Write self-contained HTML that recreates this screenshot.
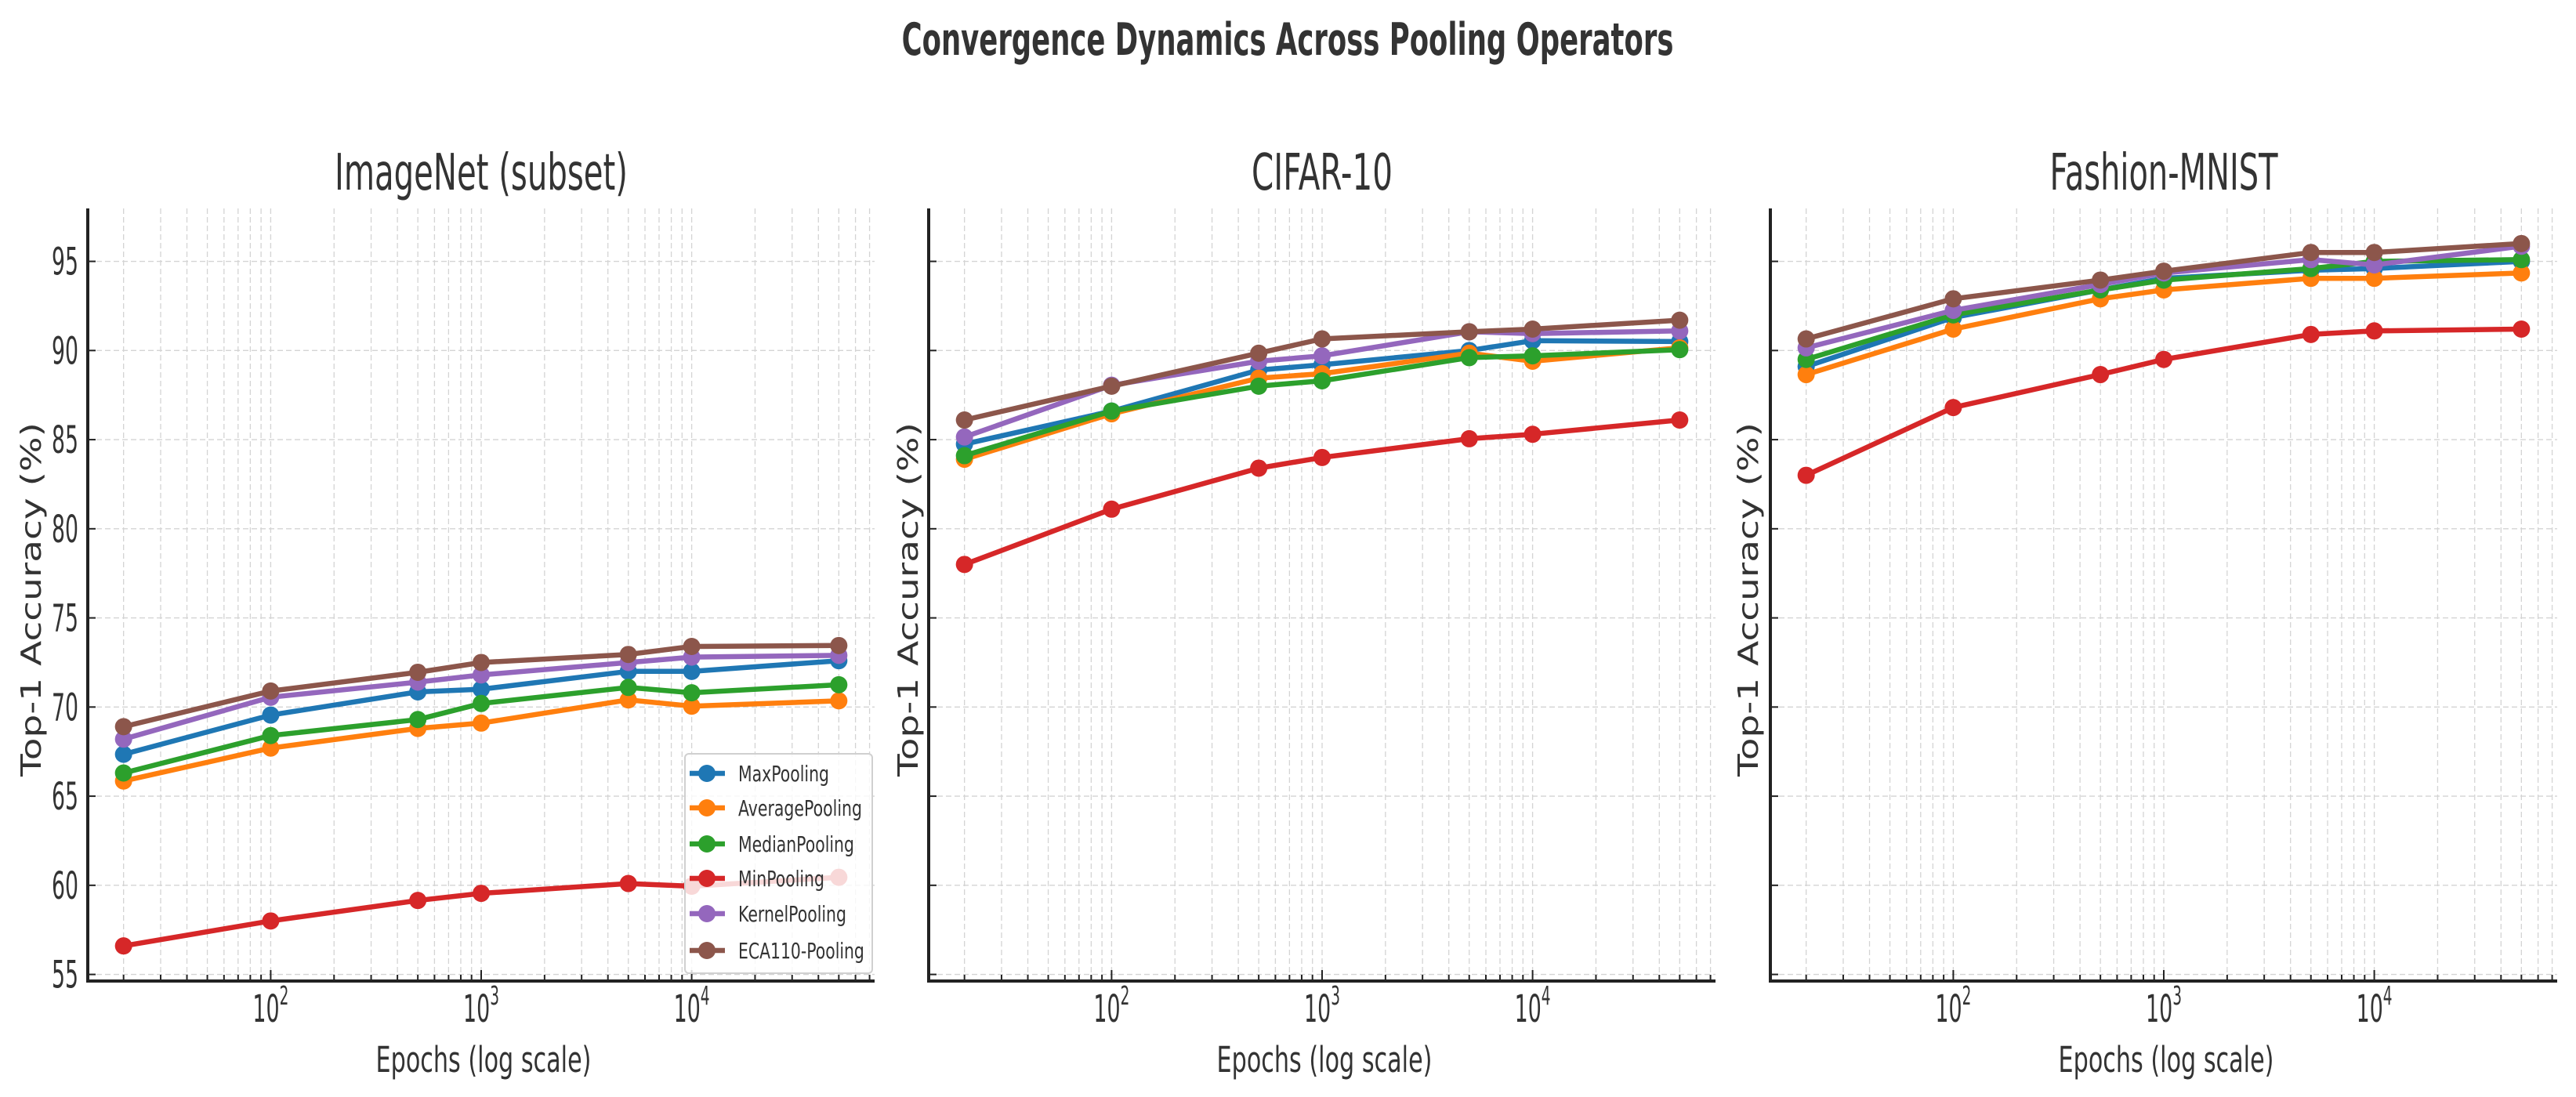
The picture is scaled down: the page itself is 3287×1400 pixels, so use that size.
<!DOCTYPE html>
<html><head><meta charset="utf-8"><title>Convergence Dynamics Across Pooling Operators</title>
<style>html,body{margin:0;padding:0;background:#fff;}svg{display:block;}</style></head>
<body>
<svg id="chart" xmlns="http://www.w3.org/2000/svg" width="3287" height="1400" viewBox="0 0 3287 1400"></svg>
<script>
const epochs = [20, 100, 500, 1000, 5000, 10000, 50000];
const seriesNames = ["MaxPooling","AveragePooling","MedianPooling","MinPooling","KernelPooling","ECA110-Pooling"];
const panelTitles = ["ImageNet (subset)","CIFAR-10","Fashion-MNIST"];
const yTicks = [55,60,65,70,75,80,85,90,95];
const xMajorExp = [2,3,4];
const imagenetMax = [67.35,69.55,70.85,71.0,72.0,72.0,72.6];
const imagenetAvg = [65.85,67.7,68.8,69.1,70.4,70.05,70.35];
const imagenetMedian = [66.3,68.4,69.3,70.2,71.1,70.8,71.25];
const imagenetMin = [56.6,58.0,59.15,59.55,60.1,59.95,60.45];
const imagenetKernel = [68.2,70.55,71.4,71.8,72.5,72.8,72.9];
const imagenetECA = [68.9,70.9,71.95,72.5,72.95,73.4,73.45];
const cifarMax = [84.75,86.6,88.9,89.2,90.0,90.55,90.5];
const cifarAvg = [83.9,86.45,88.45,88.7,89.85,89.4,90.15];
const cifarMedian = [84.1,86.6,88.0,88.3,89.6,89.7,90.05];
const cifarMin = [78.0,81.1,83.4,84.0,85.05,85.3,86.1];
const cifarKernel = [85.15,88.05,89.4,89.7,91.05,90.95,91.1];
const cifarECA = [86.1,88.0,89.85,90.65,91.05,91.2,91.7];
const fashionMax = [89.1,91.85,93.4,94.05,94.5,94.6,95.0];
const fashionAvg = [88.65,91.2,92.9,93.4,94.05,94.05,94.35];
const fashionMedian = [89.5,92.0,93.4,93.95,94.6,95.0,95.1];
const fashionMin = [83.0,86.8,88.65,89.5,90.9,91.1,91.2];
const fashionKernel = [90.15,92.25,93.7,94.35,95.1,94.8,95.85];
const fashionECA = [90.65,92.9,93.95,94.45,95.5,95.5,96.0];

const panelData = [
  [imagenetMax,imagenetAvg,imagenetMedian,imagenetMin,imagenetKernel,imagenetECA],
  [cifarMax,cifarAvg,cifarMedian,cifarMin,cifarKernel,cifarECA],
  [fashionMax,fashionAvg,fashionMedian,fashionMin,fashionKernel,fashionECA]
];
const colors = ["#1f77b4","#ff7f0e","#2ca02c","#d62728","#9467bd","#8c564b"];
const NS = "http://www.w3.org/2000/svg";
const svg = document.getElementById('chart');
const FONT = '"DejaVu Sans","Liberation Sans",sans-serif';
const panelLeft = [112,1185,2259];
const PW = 1004, TOP = 266, BOT = 1252;
const XMIN = 1.131, XMAX = 4.869, YMIN = 54.63, YMAX = 97.97;

function mk(tag, attrs, parent){
  const e = document.createElementNS(NS, tag);
  for (const k in attrs) e.setAttribute(k, attrs[k]);
  (parent||svg).appendChild(e);
  return e;
}
function fitText(parent, str, x, y, size, targetW, anchor, weight, rot){
  const t = document.createElementNS(NS,'text');
  t.textContent = str;
  t.setAttribute('font-family', FONT);
  t.setAttribute('font-size', size);
  t.setAttribute('fill', '#333');
  if (weight) t.setAttribute('font-weight', weight);
  t.setAttribute('text-anchor', anchor);
  parent.appendChild(t);
  const w = t.getComputedTextLength() || 1;
  const k = targetW / w;
  t.setAttribute('transform', 'translate(' + x + ',' + y + ')' + (rot ? ' rotate(-90)' : '') + ' scale(' + k + ',1)');
  return t;
}

const title = fitText(svg, 'Convergence Dynamics Across Pooling Operators', 1643, 70, 57, 985, 'middle', 'bold', false);



const subTitleW = [374, 180, 291];
const ylabX = [52, 1171, 2243];

for (let p = 0; p < 3; p++){
  const L = panelLeft[p], R = L + PW;
  const xs = v => L + (Math.log10(v) - XMIN) / (XMAX - XMIN) * PW;
  const ys = v => BOT - (v - YMIN) / (YMAX - YMIN) * (BOT - TOP);
  const g = mk('g', {});
  
  
  const grid = mk('g', {stroke:'#d4d4d4','stroke-width':1.3,'stroke-dasharray':'7,4',fill:'none'}, g);
  
  
  for (let e = 1; e <= 4; e++){
    for (let m = 1; m <= 9; m++){
      const v = m * Math.pow(10, e);
      const lv = Math.log10(v);
      if (lv < XMIN || lv > XMAX) continue;
      const X = xs(v);
      mk('line', {x1:X,x2:X,y1:TOP,y2:BOT}, grid);
      mk('line', {x1:X,x2:X,y1:BOT,y2:BOT-(m===1?14:8),stroke:'#222','stroke-width':2,'stroke-dasharray':'none'}, g);
    }
  }
  yTicks.forEach(v => {
    const Y = ys(v);
    mk('line', {x1:L,x2:R,y1:Y,y2:Y}, grid);
    mk('line', {x1:L,x2:L+10,y1:Y,y2:Y,stroke:'#222','stroke-width':2}, g);
    if (p === 0){
      const t = fitText(g, String(v), 100, Y + 17, 48, 34, 'end', null, false);
      
      
    }
  });
  xMajorExp.forEach(e => {
    const X = xs(Math.pow(10, e));
    const t = document.createElementNS(NS, 'text');
    t.setAttribute('font-family', FONT);
    t.setAttribute('font-size', 48);
    t.setAttribute('fill', '#333');
    t.setAttribute('text-anchor', 'middle');
    t.setAttribute('transform', 'translate(' + X + ',1304) scale(0.56,1)');
    
    
    const a = document.createElementNS(NS, 'tspan'); a.textContent = '10';
    const b = document.createElementNS(NS, 'tspan'); b.textContent = String(e);
    b.setAttribute('font-size', 33); b.setAttribute('dy', -22);
    t.appendChild(a); t.appendChild(b);
    g.appendChild(t);
  });
  mk('line', {x1:L,x2:L,y1:TOP,y2:BOT+2,stroke:'#222','stroke-width':4}, g);
  mk('line', {x1:L-2,x2:R,y1:BOT,y2:BOT,stroke:'#222','stroke-width':4}, g);
  const st = fitText(g, panelTitles[p], L + PW/2, 242, 64, subTitleW[p], 'middle', null, false);
  
  
  const xl = fitText(g, 'Epochs (log scale)', L + PW/2 + 3, 1368, 45, 275, 'middle', null, false);
  
  
  const yl = fitText(g, 'Top-1 Accuracy (%)', ylabX[p], 765, 36, 452, 'middle', null, true);
  
  

  panelData[p].forEach((vals, si) => {
    const sg = mk('g', {}, g);
    
    
    const pts = vals.map((v, i) => xs(epochs[i]).toFixed(1) + ',' + ys(v).toFixed(1)).join(' ');
    mk('polyline', {points:pts, fill:'none', stroke:colors[si], 'stroke-width':6.5, 'stroke-linejoin':'round'}, sg);
    vals.forEach((v, i) => {
      const c = mk('circle', {cx:xs(epochs[i]), cy:ys(v), r:11, fill:colors[si]}, sg);
      
      
    });
  });

  if (p === 0){
    const lg = mk('g', {}, g);
    
    
    mk('rect', {x:874,y:962,width:239,height:280,rx:5,fill:'#fff','fill-opacity':0.82,stroke:'#d0d0d0','stroke-width':2}, lg);
    const rowY = [987,1031,1077,1121,1166,1213];
    const lw = [116,158,148,110,138,161];
    seriesNames.forEach((n, si) => {
      const eg = mk('g', {}, lg);
      
      
      mk('line', {x1:880,x2:925,y1:rowY[si],y2:rowY[si],stroke:colors[si],'stroke-width':6.5}, eg);
      mk('circle', {cx:902,cy:rowY[si],r:11,fill:colors[si]}, eg);
      fitText(eg, n, 942, rowY[si] + 10, 28, lw[si], 'start', null, false);
    });
  }
}
</script>
</body></html>
